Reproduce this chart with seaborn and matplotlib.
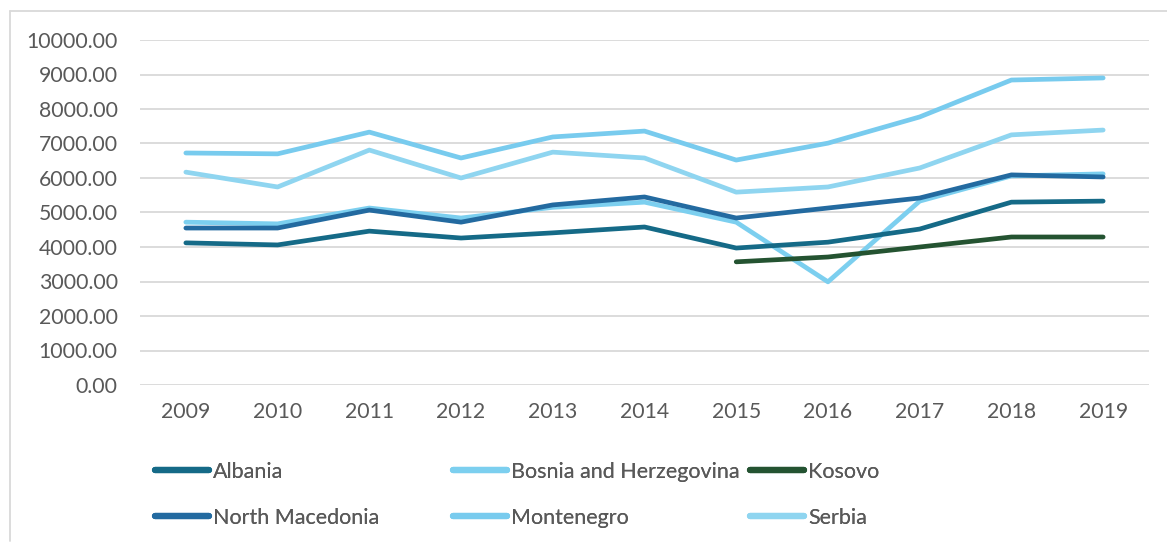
import pandas as pd
import seaborn as sns
import matplotlib.pyplot as plt
from matplotlib.lines import Line2D

years = [2009, 2010, 2011, 2012, 2013, 2014, 2015, 2016, 2017, 2018, 2019]
albania = [4120, 4060, 4460, 4260, 4410, 4580, 3970, 4140, 4520, 5300, 5330]
bosnia = [4720, 4670, 5130, 4840, 5150, 5300, 4720, 2990, 5330, 6060, 6120]
kosovo = [None, None, None, None, None, None, 3570, 3710, 4000, 4290, 4290]
macedonia = [4550, 4550, 5070, 4720, 5220, 5450, 4840, 5130, 5420, 6090, 6030]
montenegro = [6725, 6700, 7330, 6580, 7190, 7360, 6520, 7010, 7770, 8840, 8900]
serbia = [6170, 5740, 6810, 6000, 6750, 6580, 5590, 5740, 6290, 7250, 7390]

countries = ['Albania', 'Bosnia and Herzegovina', 'Kosovo',
             'North Macedonia', 'Montenegro', 'Serbia']
colors = ['#156a87', '#7ccfef', '#245331', '#236aa0', '#78cbee', '#8fd5f0']

rows = []
for name, vals in zip(countries, [albania, bosnia, kosovo, macedonia, montenegro, serbia]):
    for i, v in enumerate(vals):
        if v is not None:
            rows.append({'pos': i, 'value': v, 'country': name})
df = pd.DataFrame(rows)

sns.set_style('white')
plt.rcParams['font.family'] = ['Lato', 'DejaVu Sans']
txt = '#595959'

fig = plt.figure(figsize=(11.67, 5.43), dpi=100)
ax = fig.add_axes([140 / 1167, 1 - 385 / 543, 1009 / 1167, 345 / 543])

# light series underneath, dark ones on top
pal = dict(zip(countries, colors))
order = ['Montenegro', 'Serbia', 'Bosnia and Herzegovina',
         'Kosovo', 'Albania', 'North Macedonia']
for name in order:
    sub = df[df.country == name]
    sns.lineplot(data=sub, x='pos', y='value', color=pal[name], linewidth=3.4,
                 ax=ax, legend=False, solid_capstyle='round')

ax.set_xlim(-0.5, 10.5)
ax.set_ylim(0, 10000)
ax.set_yticks(range(0, 10001, 1000))
ax.set_yticklabels([f'{v:.2f}' for v in range(0, 10001, 1000)])
ax.set_xticks(range(len(years)))
ax.set_xticklabels([str(y) for y in years])
ax.tick_params(axis='both', length=0, labelsize=15.3, colors=txt)
ax.tick_params(axis='y', pad=16)
ax.tick_params(axis='x', pad=12)
ax.set_xlabel('')
ax.set_ylabel('')
ax.grid(axis='y', color='#d9d9d9', linewidth=1.3)
ax.set_axisbelow(True)
for s in ax.spines.values():
    s.set_visible(False)

# legend: three columns placed like the original
handles = {n: Line2D([], [], color=c, linewidth=4.5, solid_capstyle='round')
           for n, c in zip(countries, colors)}
col_x = [144, 442, 739]
cols = [['Albania', 'North Macedonia'], ['Bosnia and Herzegovina', 'Montenegro'],
        ['Kosovo', 'Serbia']]
for x, names in zip(col_x, cols):
    leg = fig.legend([handles[n] for n in names], names, loc='upper left',
                     bbox_to_anchor=(x / 1167, 1 - 451 / 543), frameon=False,
                     fontsize=15.5, handlelength=2.5, handletextpad=0.2,
                     labelspacing=1.2, borderpad=0, labelcolor=txt)
    fig.add_artist(leg)

# light frame around the chart area
fig.add_artist(Line2D([10 / 1167, 10 / 1167], [0.003, 1 - 11 / 543],
                      color='#d9d9d9', linewidth=1.3, transform=fig.transFigure))
fig.add_artist(Line2D([10 / 1167, 1], [1 - 11 / 543, 1 - 11 / 543],
                      color='#d9d9d9', linewidth=1.3, transform=fig.transFigure))

fig.savefig('out.png', dpi=100, facecolor='white')
